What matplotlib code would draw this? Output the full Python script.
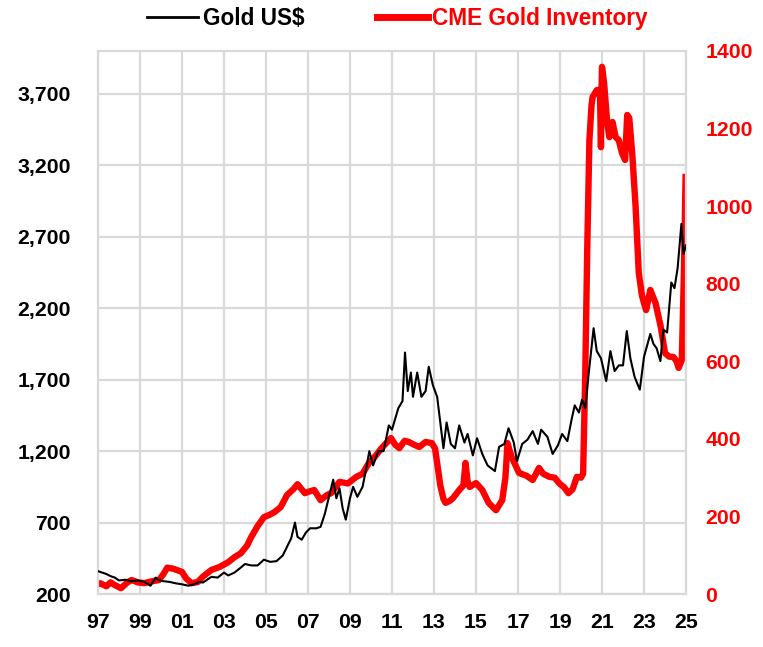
import matplotlib
matplotlib.use("Agg")
import matplotlib.pyplot as plt
from matplotlib.lines import Line2D

# ---------------- data ----------------
gold_t = [1997.0, 1997.2, 1997.4, 1997.6, 1997.8, 1998.0, 1998.3, 1998.6, 1998.9,
          1999.2, 1999.5, 1999.75, 1999.85, 2000.1, 2000.4, 2000.7, 2001.0, 2001.3,
          2001.6, 2001.8, 2002.0, 2002.4, 2002.7, 2003.0, 2003.2, 2003.5, 2003.8,
          2004.0, 2004.3, 2004.6, 2004.9, 2005.2, 2005.5, 2005.8, 2006.0, 2006.2,
          2006.38, 2006.5, 2006.7, 2006.9, 2007.1, 2007.4, 2007.6, 2007.8, 2008.0,
          2008.2, 2008.35, 2008.5, 2008.65, 2008.8, 2009.0, 2009.15, 2009.35, 2009.6,
          2009.8, 2009.92, 2010.1, 2010.35, 2010.6, 2010.85, 2011.0, 2011.3, 2011.5,
          2011.62, 2011.75, 2011.9, 2012.0, 2012.2, 2012.4, 2012.6, 2012.75, 2012.95,
          2013.15, 2013.3, 2013.45, 2013.6, 2013.8, 2014.0, 2014.2, 2014.45, 2014.6,
          2014.85, 2015.05, 2015.3, 2015.55, 2015.9, 2016.1, 2016.35, 2016.55, 2016.8,
          2016.95, 2017.2, 2017.45, 2017.7, 2017.95, 2018.1, 2018.4, 2018.65, 2018.9,
          2019.1, 2019.35, 2019.55, 2019.7, 2019.9, 2020.05, 2020.2, 2020.35, 2020.6,
          2020.75, 2020.95, 2021.2, 2021.4, 2021.6, 2021.8, 2022.0, 2022.18, 2022.35,
          2022.55, 2022.8, 2023.0, 2023.3, 2023.45, 2023.6, 2023.78, 2023.92, 2024.1,
          2024.3, 2024.45, 2024.6, 2024.78, 2024.88, 2025.0]
gold_v = [360, 350, 340, 325, 315, 295, 300, 290, 295,
          285, 258, 315, 300, 290, 285, 275, 268, 258,
          268, 285, 280, 320, 315, 350, 330, 350, 385,
          410, 400, 400, 440, 425, 430, 470, 530, 590,
          700, 600, 580, 630, 660, 660, 670, 760, 880,
          1000, 870, 940, 800, 720, 870, 950, 880, 950,
          1100, 1200, 1100, 1200, 1200, 1380, 1350, 1500, 1550,
          1890, 1620, 1750, 1580, 1750, 1580, 1620, 1790, 1660,
          1580, 1400, 1220, 1400, 1250, 1220, 1380, 1260, 1320,
          1170, 1290, 1180, 1100, 1060, 1230, 1250, 1360, 1260,
          1130, 1250, 1280, 1340, 1250, 1350, 1300, 1180, 1240,
          1320, 1270, 1420, 1520, 1470, 1560, 1500, 1720, 2060,
          1900, 1850, 1690, 1900, 1760, 1800, 1800, 2040, 1850,
          1720, 1630, 1860, 2020, 1950, 1920, 1830, 2050, 2030,
          2380, 2340, 2480, 2790, 2580, 2640]

cme_t = [1997.0, 1997.1, 1997.4, 1997.6, 1997.8, 1998.1, 1998.4, 1998.6, 1998.9,
         1999.2, 1999.5, 1999.9, 2000.1, 2000.3, 2000.6, 2001.0, 2001.2, 2001.45,
         2001.75, 2002.0, 2002.4, 2002.8, 2003.2, 2003.5, 2003.8, 2004.1, 2004.3,
         2004.6, 2004.9, 2005.2, 2005.4, 2005.7, 2006.0, 2006.3, 2006.5, 2006.7,
         2006.85, 2007.1, 2007.3, 2007.6, 2007.9, 2008.1, 2008.5, 2008.9, 2009.3,
         2009.6, 2009.9, 2010.2, 2010.5, 2010.95, 2011.15, 2011.35, 2011.6, 2011.8,
         2012.05, 2012.3, 2012.6, 2012.9, 2013.05, 2013.15, 2013.3, 2013.45, 2013.55,
         2013.75, 2013.9, 2014.2, 2014.4, 2014.5, 2014.6, 2014.7, 2015.0, 2015.3,
         2015.6, 2015.95, 2016.25, 2016.4, 2016.5, 2016.6, 2016.7, 2017.05, 2017.4,
         2017.7, 2018.0, 2018.2, 2018.5, 2018.75, 2018.95, 2019.2, 2019.4, 2019.6,
         2019.8, 2020.0, 2020.1, 2020.2, 2020.3, 2020.4, 2020.5, 2020.55, 2020.75,
         2020.9, 2020.95, 2020.98, 2021.0, 2021.1, 2021.25, 2021.35, 2021.5, 2021.65,
         2021.8, 2021.95, 2022.1, 2022.2, 2022.3, 2022.45, 2022.6, 2022.75, 2022.9,
         2023.0, 2023.1, 2023.3, 2023.55, 2023.8, 2024.0, 2024.2, 2024.4, 2024.55,
         2024.65, 2024.8, 2024.9, 2024.98]
cme_v = [25, 28, 20, 30, 23, 15, 30, 36, 30,
         28, 32, 36, 50, 68, 65, 57, 40, 28,
         31, 45, 62, 70, 82, 95, 105, 125, 147,
         175, 198, 205, 211, 224, 255, 270, 283, 270,
         260, 265, 268, 242, 255, 260, 289, 285, 302,
         310, 338, 355, 376, 402, 385, 376, 395, 392,
         385, 379, 392, 389, 375, 338, 280, 245, 235,
         240, 247, 268, 280, 338, 290, 276, 286, 268,
         235, 216, 242, 300, 389, 370, 353, 312, 305,
         294, 325, 310, 302, 300, 286, 275, 260, 270,
         302, 300, 310, 560, 900, 1170, 1260, 1281, 1299,
         1300, 1152, 1300, 1359, 1317, 1214, 1178, 1217, 1178,
         1170, 1137, 1119, 1235, 1227, 1127, 998, 828, 770,
         750, 732, 784, 750, 688, 621, 612, 611, 600,
         583, 603, 828, 1075]

left_ticks = [200, 700, 1200, 1700, 2200, 2700, 3200, 3700]
right_ticks = [0, 200, 400, 600, 800, 1000, 1200, 1400]
year_ticks = list(range(1997, 2026, 2))
year_labels = [f"{y % 100:02d}" for y in year_ticks]

# ---------------- style ----------------
FONT = "Liberation Sans"
FS = 15.3
LFS = 16.3
RED = "#ff0000"
GRID = "#d9d9d9"

plt.rcParams["font.family"] = [FONT, "DejaVu Sans"]
plt.rcParams["font.weight"] = "bold"

fig = plt.figure(figsize=(7.63, 6.47), dpi=100)
ax = fig.add_axes([0.1284, 0.0819, 0.8991 - 0.1284, 0.9212 - 0.0819])
ax2 = ax.twinx()

ax.set_xlim(1997, 2025)
ax.set_ylim(200, 4000)
ax2.set_ylim(0, 1400)

# grid
ax.set_axisbelow(True)
ax.set_xticks(year_ticks)
ax.set_xticklabels(year_labels)
ax.set_yticks(left_ticks)
ax.set_yticklabels([f"{v:,}" for v in left_ticks])
ax.grid(True, color=GRID, linewidth=1.6)
for s in ax.spines.values():
    s.set_color(GRID)
    s.set_linewidth(1.6)
for s in ax2.spines.values():
    s.set_visible(False)

ax2.set_yticks(right_ticks)
ax2.set_yticklabels([str(v) for v in right_ticks])

ax.tick_params(axis="y", length=0, pad=19.5, labelsize=FS, labelcolor="black")
ax.tick_params(axis="x", length=0, pad=13.5, labelsize=FS, labelcolor="black")
ax2.tick_params(axis="y", length=0, pad=14, labelsize=FS, labelcolor=RED)
for lab in ax.get_xticklabels() + ax.get_yticklabels() + ax2.get_yticklabels():
    lab.set_fontweight("bold")

# lines: red drawn in ax using the right-axis scale, so grid stays behind and black on top
ax.plot(cme_t, cme_v, color=RED, linewidth=4.6, solid_joinstyle="round",
        transform=ax2.transData, zorder=2)
ax.plot(gold_t, gold_v, color="black", linewidth=1.5, zorder=3)

# legend
handles = [Line2D([], [], color="black", linewidth=2.0),
           Line2D([], [], color=RED, linewidth=5.0)]
leg = fig.legend(handles, ["Gold US$", "CME Gold Inventory"], loc="center",
                 bbox_to_anchor=(0.521, 0.972), ncol=2, frameon=False,
                 handlelength=2.25, handletextpad=0.2, columnspacing=3.2,
                 prop={"family": FONT, "weight": "bold", "size": LFS})
leg.get_texts()[1].set_color(RED)

fig.savefig("out.png", dpi=100)
